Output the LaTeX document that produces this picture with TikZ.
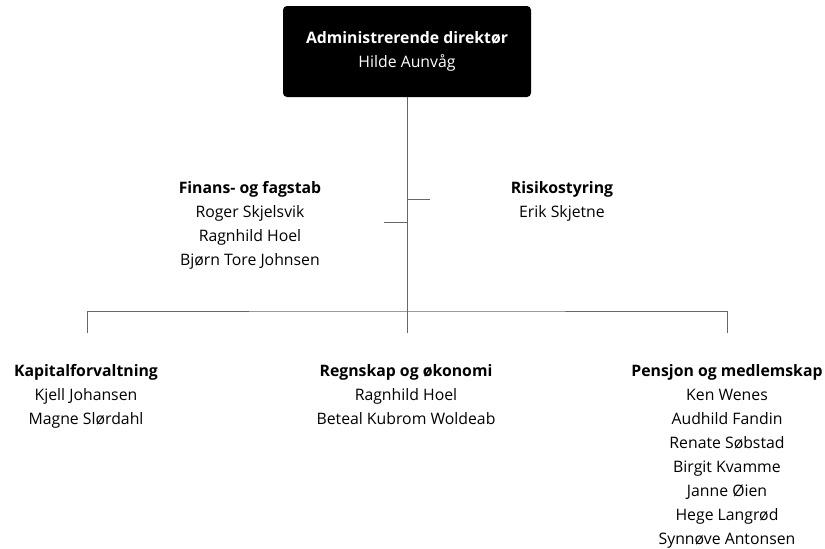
\documentclass[tikz,border=0pt]{standalone}
\usepackage{fontspec}
\setmainfont{Open Sans}
\usetikzlibrary{positioning}

\tikzset{
  orgline/.style={draw=black!60, line width=0.9pt},
  unit/.style={align=center, inner sep=0pt, anchor=north, font=\fontsize{15.8}{24}\selectfont},
  chief/.style={fill=black, rounded corners=4pt, minimum width=248pt, minimum height=91pt, inner sep=0pt}
}

\begin{document}
\begin{tikzpicture}[x=1pt,y=-1pt]

\useasboundingbox (0,0) rectangle (825,549);

% top box
\node [chief] (dir) at (407,51.5) {};
\node [unit, text=white] (dirtxt) at (407,31) {\textbf{Administrerende direktør}\\Hilde Aunvåg};

% staff units
\node [unit] (stab) at (250,181) {\textbf{Finans- og fagstab}\\Roger Skjelsvik\\Ragnhild Hoel\\Bjørn Tore Johnsen};
\node [unit] (risk) at (562,181) {\textbf{Risikostyring}\\Erik Skjetne};

% line units
\node [unit] (kap) at (86,364) {\textbf{Kapitalforvaltning}\\Kjell Johansen\\Magne Slørdahl};
\node [unit] (regn) at (406,364) {\textbf{Regnskap og økonomi}\\Ragnhild Hoel\\Beteal Kubrom Woldeab};
\node [unit] (pens) at (727,364) {\textbf{Pensjon og medlemskap}\\Ken Wenes\\Audhild Fandin\\Renate Søbstad\\Birgit Kvamme\\Janne Øien\\Hege Langrød\\Synnøve Antonsen};

% connectors
\coordinate (spine) at (407,311);
\coordinate (riskstub) at (430,199);
\coordinate (stabstub) at (384,222);
\coordinate (kaptop) at (87,333);
\coordinate (regntop) at (407,333);
\coordinate (penstop) at (727,333);

\draw [orgline] (dir.south -| spine) -- (regntop);
\draw [orgline] (riskstub -| spine) -- (riskstub);
\draw [orgline] (stabstub -| spine) -- (stabstub);
\draw [orgline] (kaptop) |- (spine) -| (penstop);

\end{tikzpicture}
\end{document}
